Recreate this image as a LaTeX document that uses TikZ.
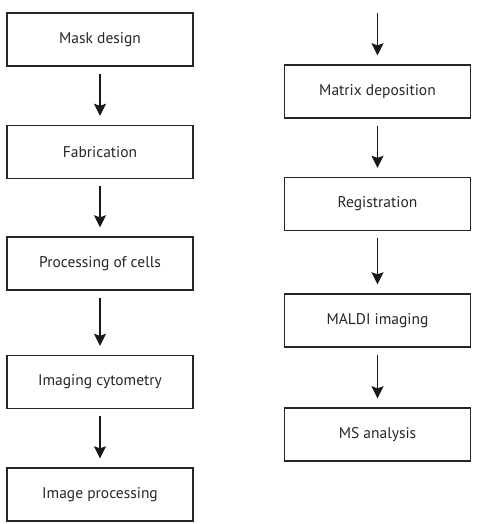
\documentclass[tikz,border=0pt]{standalone}
\usepackage{fontspec}
\setmainfont{PT Sans}
\usetikzlibrary{arrows.meta}
\begin{document}
\begin{tikzpicture}[x=1pt,y=-1pt,
  stepbox/.style={draw=black!85,line width=1.4pt,minimum width=186pt,minimum height=53pt,inner sep=0pt,font=\fontsize{15.5}{18}\selectfont,text=black!85},
  flow/.style={line width=1.4pt,draw=black!90,-{Stealth[length=12pt,width=12pt,inset=2pt]},shorten <=7pt,shorten >=9pt}]
\useasboundingbox (0,0) rectangle (482,524);
\node[stepbox] (a) at (100,39.5) {Mask design};
\node[stepbox] (b) at (100,152) {Fabrication};
\node[stepbox] (c) at (100,263.5) {Processing of cells};
\node[stepbox] (d) at (100,382) {Imaging cytometry};
\node[stepbox] (e) at (100,494.5) {Image processing};
\coordinate (top) at (377.5,6);
\node[stepbox] (f) at (377.5,91.5) {Matrix deposition};
\node[stepbox] (g) at (377.5,204) {Registration};
\node[stepbox] (h) at (377.5,320.5) {MALDI imaging};
\node[stepbox] (i) at (377.5,434.5) {MS analysis};
\draw[flow] (a) -- (b);
\draw[flow] (b) -- (c);
\draw[flow] (c) -- (d);
\draw[flow] (d) -- (e);
\draw[flow] (top) -- (f);
\draw[flow] (f) -- (g);
\draw[flow] (g) -- (h);
\draw[flow] (h) -- (i);
\end{tikzpicture}
\end{document}
